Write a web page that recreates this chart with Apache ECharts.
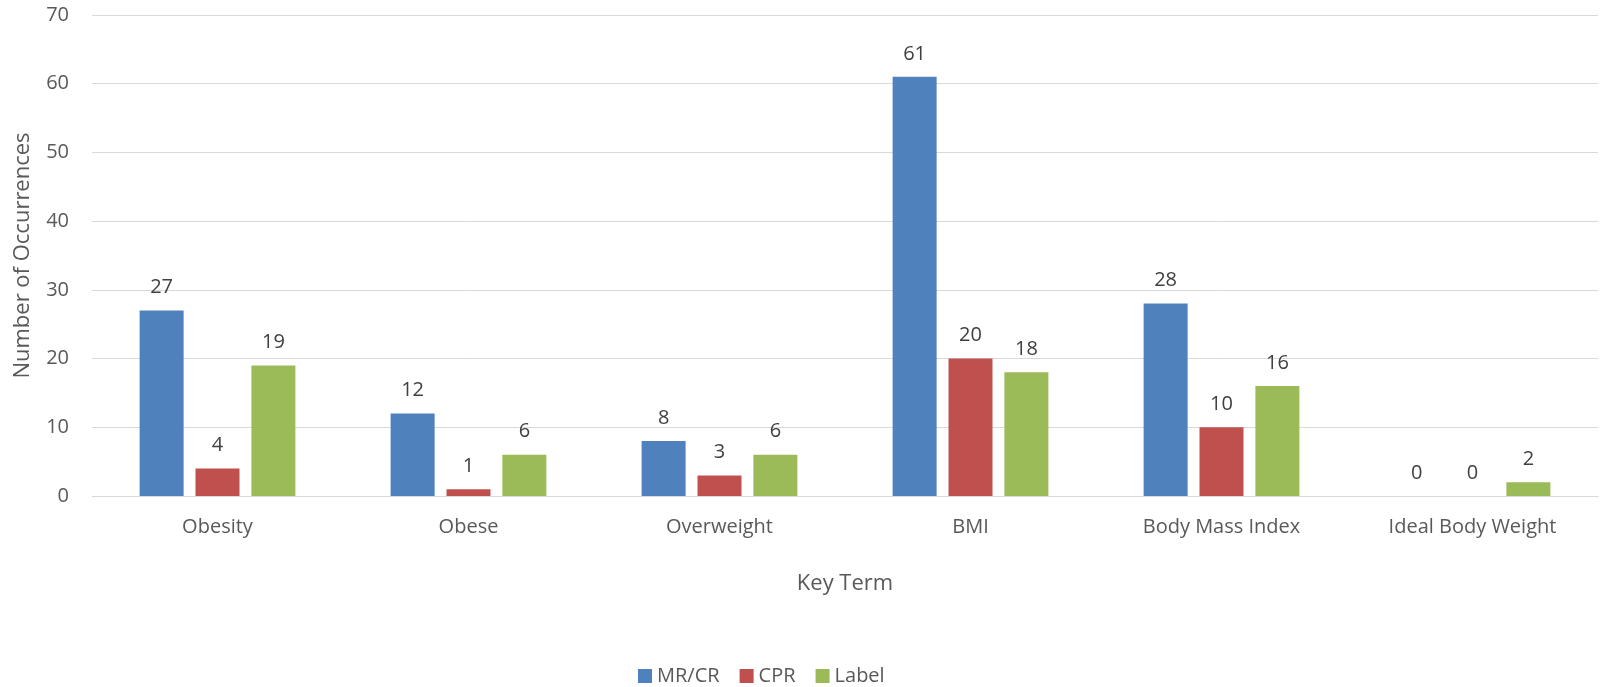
<!DOCTYPE html>
<html>
<head>
<meta charset="utf-8">
<script src="https://cdn.jsdelivr.net/npm/echarts@6/dist/echarts.min.js"></script>
<style>
  html, body { margin: 0; padding: 0; background: #fff; }
  #chart { width: 1600px; height: 687px; }
</style>
</head>
<body>
<div id="chart"></div>
<script>
// Key terms and their occurrence counts per source
const categories = ['Obesity', 'Obese', 'Overweight', 'BMI', 'Body Mass Index', 'Ideal Body Weight'];
const mrcrValues = [27, 12, 8, 61, 28, 0];
const cprValues = [4, 1, 3, 20, 10, 0];
const labelValues = [19, 6, 6, 18, 16, 2];
const seriesNames = ['MR/CR', 'CPR', 'Label'];
const yTicks = { min: 0, max: 70, interval: 10 };

const FONT = 'Open Sans';
const TEXT = '#595959';

const chart = echarts.init(document.getElementById('chart'));

function barSeries(name, data, color) {
  return {
    name: name,
    type: 'bar',
    data: data,
    barWidth: 44,
    barGap: '27%',
    itemStyle: { color: color },
    label: {
      show: true,
      position: 'top',
      distance: 13,
      color: '#404040',
      fontFamily: FONT,
      fontSize: 20
    }
  };
}

chart.setOption({
  animation: false,
  grid: { left: 92, right: 2, top: 15, bottom: 191, containLabel: false },
  legend: {
    top: 666,
    left: 638,
    itemWidth: 14,
    itemHeight: 14,
    itemGap: 20,
    icon: 'rect',
    padding: 0,
    textStyle: { color: TEXT, fontFamily: FONT, fontSize: 20 },
    data: seriesNames
  },
  xAxis: {
    type: 'category',
    data: categories,
    name: 'Key Term',
    nameLocation: 'middle',
    nameGap: 77,
    nameTextStyle: { color: TEXT, fontFamily: FONT, fontSize: 22 },
    axisLine: { lineStyle: { color: '#d9d9d9', width: 1 } },
    axisTick: { show: false },
    axisLabel: { color: TEXT, fontFamily: FONT, fontSize: 20, margin: 21 }
  },
  yAxis: {
    type: 'value',
    min: yTicks.min,
    max: yTicks.max,
    interval: yTicks.interval,
    name: 'Number of Occurrences',
    nameLocation: 'middle',
    nameGap: 58,
    nameTextStyle: { color: TEXT, fontFamily: FONT, fontSize: 22 },
    axisLine: { show: false },
    axisTick: { show: false },
    axisLabel: { color: TEXT, fontFamily: FONT, fontSize: 20, margin: 23 },
    splitLine: { lineStyle: { color: '#d9d9d9', width: 1 } }
  },
  series: [
    barSeries(seriesNames[0], mrcrValues, '#4F81BD'),
    barSeries(seriesNames[1], cprValues, '#C0504D'),
    barSeries(seriesNames[2], labelValues, '#9BBB59')
  ]
});
</script>
</body>
</html>
